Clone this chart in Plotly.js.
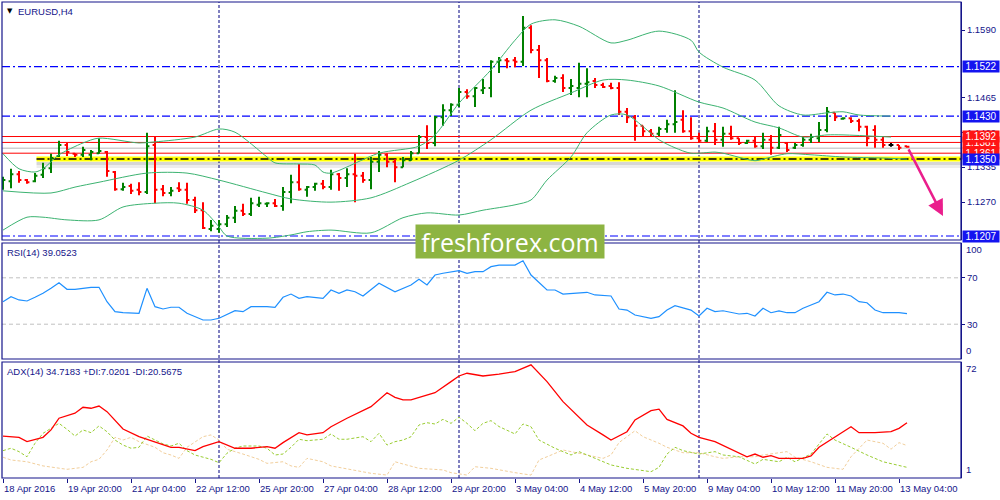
<!DOCTYPE html>
<html>
<head>
<meta charset="utf-8">
<script src="https://cdn.plot.ly/plotly-3.0.1.min.js"></script>
<style>html,body{margin:0;padding:0;background:#fff;}#chart{width:1000px;height:500px;}</style>
</head>
<body>
<div id="chart"></div>
<script>
// ---------------- DATA ----------------
const symbolTitle = "EURUSD,H4";
const rsiTitle = "RSI(14) 39.0523";
const adxTitle = "ADX(14) 34.7183 +DI:7.0201 -DI:20.5675";

const openP = [1.1300,1.1309,1.1322,1.1311,1.1309,1.1321,1.1333,1.1356,1.1376,1.1360,
 1.1358,1.1358,1.1361,1.1363,1.1326,1.1294,1.1300,1.1293,1.1289,1.1376,
 1.1294,1.1287,1.1296,1.1293,1.1274,1.1255,1.1220,1.1220,1.1229,1.1241,
 1.1254,1.1248,1.1265,1.1267,1.1268,1.1263,1.1289,1.1307,1.1293,1.1298,
 1.1304,1.1298,1.1322,1.1315,1.1322,1.1319,1.1311,1.1345,1.1358,1.1345,
 1.1335,1.1348,1.1361,1.1391,1.1380,1.1428,1.1441,1.1451,1.1475,1.1467,
 1.1478,1.1482,1.1531,1.1534,1.1534,1.1531,1.1594,1.1553,1.1534,1.1495,
 1.1501,1.1482,1.1482,1.1490,1.1495,1.1488,1.1486,1.1482,1.1438,1.1428,
 1.1412,1.1402,1.1397,1.1406,1.1415,1.1423,1.1402,1.1389,1.1384,1.1402,
 1.1386,1.1397,1.1389,1.1380,1.1384,1.1374,1.1386,1.1371,1.1380,1.1371,
 1.1376,1.1386,1.1389,1.1404,1.1436,1.1425,1.1426,1.1421,1.1410,1.1404,
 1.1386,1.1376,1.1376,1.1374];
const highP = [1.1317,1.1332,1.1328,1.1313,1.1324,1.1343,1.1360,1.1384,1.1380,1.1361,
 1.1373,1.1367,1.1389,1.1365,1.1328,1.1306,1.1304,1.1307,1.1399,1.1391,
 1.1302,1.1298,1.1307,1.1306,1.1280,1.1270,1.1237,1.1237,1.1246,1.1263,
 1.1267,1.1278,1.1280,1.1270,1.1276,1.1298,1.1321,1.1341,1.1300,1.1306,
 1.1311,1.1330,1.1324,1.1333,1.1360,1.1326,1.1354,1.1365,1.1361,1.1350,
 1.1354,1.1365,1.1395,1.1413,1.1430,1.1452,1.1454,1.1482,1.1480,1.1484,
 1.1499,1.1534,1.1540,1.1538,1.1540,1.1616,1.1599,1.1562,1.1538,1.1505,
 1.1508,1.1499,1.1529,1.1519,1.1501,1.1492,1.1492,1.1493,1.1445,1.1432,
 1.1412,1.1406,1.1410,1.1423,1.1478,1.1441,1.1428,1.1399,1.1410,1.1417,
 1.1410,1.1412,1.1389,1.1386,1.1391,1.1399,1.1395,1.1410,1.1382,1.1380,
 1.1391,1.1397,1.1419,1.1447,1.1436,1.1428,1.1428,1.1425,1.1412,1.1413,
 1.1391,1.1380,1.1376,1.1374];
const lowP = [1.1293,1.1296,1.1306,1.1304,1.1307,1.1315,1.1324,1.1354,1.1356,1.1354,
 1.1354,1.1348,1.1360,1.1317,1.1291,1.1291,1.1285,1.1283,1.1285,1.1268,
 1.1281,1.1281,1.1289,1.1267,1.1250,1.1220,1.1216,1.1213,1.1224,1.1231,
 1.1244,1.1244,1.1261,1.1261,1.1261,1.1254,1.1268,1.1291,1.1280,1.1291,
 1.1294,1.1293,1.1291,1.1298,1.1270,1.1306,1.1294,1.1326,1.1335,1.1307,
 1.1335,1.1347,1.1361,1.1369,1.1374,1.1412,1.1430,1.1447,1.1462,1.1447,
 1.1471,1.1465,1.1510,1.1519,1.1521,1.1523,1.1547,1.1501,1.1493,1.1492,
 1.1475,1.1469,1.1465,1.1465,1.1482,1.1482,1.1480,1.1432,1.1417,1.1384,
 1.1391,1.1391,1.1393,1.1399,1.1399,1.1399,1.1386,1.1380,1.1382,1.1376,
 1.1373,1.1386,1.1376,1.1378,1.1371,1.1369,1.1358,1.1369,1.1363,1.1369,
 1.1373,1.1380,1.1382,1.1400,1.1421,1.1423,1.1417,1.1402,1.1374,1.1371,
 1.1371,1.1373,1.1367,1.1371];
const closeP = [1.1311,1.1322,1.1311,1.1307,1.1319,1.1333,1.1352,1.1376,1.1363,1.1358,
 1.1367,1.1363,1.1365,1.1328,1.1294,1.1298,1.1291,1.1289,1.1374,1.1293,
 1.1287,1.1291,1.1293,1.1274,1.1255,1.1222,1.1226,1.1229,1.1241,1.1254,
 1.1248,1.1268,1.1268,1.1268,1.1263,1.1289,1.1307,1.1294,1.1298,1.1304,
 1.1298,1.1322,1.1315,1.1322,1.1319,1.1311,1.1345,1.1358,1.1345,1.1335,
 1.1348,1.1361,1.1391,1.1380,1.1428,1.1441,1.1451,1.1475,1.1467,1.1482,
 1.1482,1.1531,1.1534,1.1532,1.1531,1.1594,1.1553,1.1534,1.1495,1.1501,
 1.1482,1.1486,1.1490,1.1493,1.1488,1.1484,1.1482,1.1438,1.1428,1.1412,
 1.1402,1.1397,1.1406,1.1415,1.1419,1.1402,1.1389,1.1384,1.1402,1.1386,
 1.1397,1.1389,1.1380,1.1384,1.1374,1.1386,1.1371,1.1395,1.1367,1.1376,
 1.1386,1.1391,1.1404,1.1438,1.1428,1.1426,1.1421,1.1410,1.1389,1.1386,
 1.1376,1.1376,1.1371,1.1373];

// Bollinger bands (bar index, price)
const bbUpperIdx = [0,2,4,5,6,7,10,12,17,19,24,27,29,33,34,37,39,40,41,47,52,54,57,61,64,66,69,72,76,78,82,86,87,90,94,97,100,103,105,107,111];
const bbUpperVal = [1.1360,1.1332,1.1326,1.1332,1.1345,1.1358,1.1380,1.1389,1.1380,1.1382,1.1391,1.1406,1.1400,1.1354,1.1343,1.1341,1.1339,1.1326,1.1324,1.1361,1.1374,1.1395,1.1454,1.1516,1.1571,1.1601,1.1609,1.1597,1.1566,1.1571,1.1588,1.1571,1.1549,1.1521,1.1497,1.1449,1.1432,1.1436,1.1438,1.1432,1.1430];
const bbMidIdx = [0,6,9,12,18,23,27,33,36,41,46,51,57,61,66,71,75,78,82,87,90,94,97,100,103,105,111];
const bbMidVal = [1.1291,1.1287,1.1298,1.1307,1.1324,1.1324,1.1311,1.1287,1.1276,1.1270,1.1278,1.1307,1.1348,1.1386,1.1441,1.1473,1.1497,1.1497,1.1486,1.1456,1.1445,1.1419,1.1408,1.1391,1.1395,1.1395,1.1391];
const bbLowerIdx = [0,3,5,8,12,15,19,22,25,27,28,33,36,38,41,46,50,53,57,60,64,66,68,71,73,76,78,82,84,86,89,90,94,95,98,101,105,110,113];
const bbLowerVal = [1.1218,1.1242,1.1242,1.1237,1.1237,1.1261,1.1268,1.1268,1.1255,1.1224,1.1207,1.1203,1.1209,1.1215,1.1218,1.1213,1.1241,1.1250,1.1246,1.1255,1.1265,1.1274,1.1311,1.1354,1.1399,1.1432,1.1432,1.1386,1.1371,1.1361,1.1363,1.1361,1.1347,1.1350,1.1360,1.1358,1.1354,1.1352,1.1350];

// RSI(14)
const rsiIdx = [0,1,2,3,4,5,6,7,8,9,11,12,13,14,15,17,18,19,20,21,22,23,25,26,27,29,30,31,33,34,35,36,37,38,40,41,42,43,44,45,47,49,51,52,53,54,55,56,57,58,59,60,61,62,64,65,66,68,69,70,72,73,74,76,77,78,79,81,82,83,84,86,87,88,89,90,92,93,94,95,96,97,98,99,100,102,103,104,105,106,107,108,109,110,112,113];
const rsiVal = [49.4,53.7,50.9,50.0,53.2,56.6,60.9,65.8,60.1,60.1,61.8,61.8,49.4,40.8,39.9,39.4,60.9,45.1,43.1,44.6,44.6,39.4,33.6,33.6,35.1,41.6,40.8,45.1,45.1,44.6,53.2,56.0,52.3,53.7,52.3,59.5,56.6,59.5,58.0,54.3,65.3,58.0,63.8,68.7,63.8,72.4,73.9,75.3,76.1,73.9,75.3,75.3,79.6,81.0,81.0,84.7,72.4,59.5,59.5,56.0,56.6,57.5,55.2,54.3,43.1,42.2,37.9,35.1,36.5,42.2,45.9,42.2,37.1,43.7,40.8,41.6,38.8,39.4,37.1,43.7,39.9,41.4,39.9,39.9,43.7,49.4,57.5,55.2,56.0,54.3,49.4,48.5,42.2,39.9,39.9,39.05];
const rsiLevels = [70, 30];

// ADX(14), +DI, -DI
const adxIdx = [0,2,3,5,6,7,9,10,11,12,13,14,15,17,19,21,22,24,25,27,29,31,33,34,35,37,38,40,41,43,46,48,49,50,51,54,56,57,58,60,62,64,66,68,70,73,75,76,78,79,81,82,83,85,86,87,89,91,92,93,94,95,96,97,100,101,102,104,106,107,109,111,112,113];
const adxVal = [26.5,25.7,23.0,25.7,30.3,37.6,40.7,44.4,43.8,45.2,41.7,36.1,30.9,26.1,23.0,19.5,19.5,17.4,19.9,23.0,18.9,18.9,19.9,18.9,22.4,28.6,27.2,28.6,32.3,37.6,44.8,53.5,50.6,49.0,49.0,53.5,60.4,63.9,65.6,63.9,65.1,66.6,70.8,60.4,47.9,33.4,27.2,24.0,29.2,36.5,42.3,43.2,36.9,32.8,28.2,25.7,23.0,18.3,15.8,13.6,15.3,13.3,14.3,12.6,12.6,14.1,19.5,26.1,32.3,28.6,28.6,29.2,31.3,34.72];
const pdiIdx = [0,1,2,3,4,5,6,7,8,9,10,11,12,13,14,15,16,17,18,19,20,21,22,23,24,26,27,28,29,30,32,33,34,35,36,37,38,40,41,42,43,45,46,47,48,49,50,51,52,53,54,55,56,57,58,59,60,61,62,64,65,66,67,69,71,72,74,76,78,81,82,83,84,85,87,89,90,92,94,95,97,98,99,101,103,104,106,108,110,112,113];
const pdiVal = [17.4,18.9,16.8,13.6,22.0,28.2,31.3,34.4,30.7,26.5,30.3,28.6,32.8,29.2,24.0,20.9,18.9,19.5,26.5,24.0,21.6,20.3,22.0,17.4,14.7,12.0,9.9,15.8,18.9,20.3,20.3,18.9,14.7,15.3,19.5,24.5,23.6,24.5,27.8,24.5,24.5,26.1,23.0,28.2,20.9,23.0,24.0,26.1,33.4,34.8,34.0,36.9,34.4,38.2,34.4,29.8,34.4,36.1,32.4,27.8,34.0,32.3,24.0,18.9,14.7,16.8,12.6,8.5,6.4,4.3,7.0,15.3,19.5,17.4,15.3,16.8,14.7,13.6,9.1,12.0,10.5,13.3,10.5,15.3,27.8,24.0,19.5,14.7,10.5,7.9,7.02];
const mdiIdx = [0,1,3,5,8,10,11,12,13,14,15,16,17,19,20,21,22,23,25,26,27,28,30,32,33,35,36,37,38,40,41,44,46,48,49,50,52,55,56,58,59,61,62,64,66,67,68,70,72,74,75,76,77,79,80,82,83,85,87,89,90,92,94,95,97,98,99,101,103,105,106,108,110,111,112,113];
const mdiVal = [13.3,11.6,10.5,7.9,5.8,7.0,10.5,12.0,17.8,25.7,24.0,25.7,23.0,19.5,16.1,14.7,12.6,19.5,26.1,27.2,24.0,18.3,15.3,12.0,9.5,10.5,7.9,7.0,12.6,10.5,7.9,5.4,3.3,2.2,10.5,9.1,6.4,5.4,3.7,2.2,7.4,6.4,5.4,3.7,2.2,11.6,13.6,17.8,15.8,13.6,12.6,14.7,22.4,29.8,26.1,22.0,19.5,16.1,16.1,13.6,12.6,13.6,13.6,14.7,15.8,16.8,13.3,10.5,7.0,5.8,13.6,24.0,22.0,18.3,22.4,20.57];

// Time axis
const dateTickBars = [0,8,16,24,32,40,48,56,64,72,80,88,96,104,112];
const dateLabels = ["18 Apr 2016","19 Apr 20:00","21 Apr 04:00","22 Apr 12:00","25 Apr 20:00","27 Apr 04:00","28 Apr 12:00","29 Apr 20:00","3 May 04:00","4 May 12:00","5 May 20:00","9 May 04:00","10 May 12:00","11 May 20:00","13 May 04:00"];
const weekSeparatorBars = [27,57,87];

// Price levels
const priceTicks = [1.1590, 1.1465, 1.1400, 1.1335, 1.1270];
const blueLevels = [1.1522, 1.1430, 1.1207];
const redLevels = [1.1392, 1.1381, 1.1361];
const grayLevel = 1.1370;
const supportLevel = 1.1350;
const redBoxOrder = [1.1381, 1.1361, 1.1392];
const blueBoxOrder = [1.1522, 1.1430, 1.1207, 1.1350];
const watermark = "freshforex.com";

// ---------------- STYLE ----------------
const NAVY = "#14148a";
const SEP = "#000080";
const FONT = "Liberation Sans, Arial, sans-serif";
const FS = 9.5;
const BBCOL = "#3cb371";

const bars = openP.map((_, i) => i);
const isDoji = bars.map(i => openP[i] === closeP[i]);
const pick = (arr, keep) => arr.filter((_, i) => keep(i));

const traces = [];
// Bollinger bands
[[bbUpperIdx, bbUpperVal], [bbMidIdx, bbMidVal], [bbLowerIdx, bbLowerVal]].forEach(([xi, yv]) => {
  traces.push({type: "scatter", mode: "lines", x: xi, y: yv, xaxis: "x", yaxis: "y",
    line: {color: BBCOL, width: 1, shape: "spline", smoothing: 0.8}, hoverinfo: "skip"});
});
// OHLC bars
traces.push({type: "ohlc", xaxis: "x", yaxis: "y",
  x: pick(bars, i => !isDoji[i]), open: pick(openP, i => !isDoji[i]), high: pick(highP, i => !isDoji[i]),
  low: pick(lowP, i => !isDoji[i]), close: pick(closeP, i => !isDoji[i]),
  increasing: {line: {color: "#008000", width: 2}}, decreasing: {line: {color: "#ff0000", width: 2}},
  tickwidth: 0.3, hoverinfo: "skip"});
traces.push({type: "ohlc", xaxis: "x", yaxis: "y",
  x: pick(bars, i => isDoji[i]), open: pick(openP, i => isDoji[i]), high: pick(highP, i => isDoji[i]),
  low: pick(lowP, i => isDoji[i]), close: pick(closeP, i => isDoji[i]),
  increasing: {line: {color: "#000000", width: 2}}, decreasing: {line: {color: "#000000", width: 2}},
  tickwidth: 0.3, hoverinfo: "skip"});
// RSI
traces.push({type: "scatter", mode: "lines", x: rsiIdx, y: rsiVal, xaxis: "x", yaxis: "y2",
  line: {color: "#1e90ff", width: 1.2}, hoverinfo: "skip"});
// ADX
traces.push({type: "scatter", mode: "lines", x: mdiIdx, y: mdiVal, xaxis: "x", yaxis: "y3",
  line: {color: "#f2cf9c", width: 1, dash: "3px,2px"}, hoverinfo: "skip"});
traces.push({type: "scatter", mode: "lines", x: pdiIdx, y: pdiVal, xaxis: "x", yaxis: "y3",
  line: {color: "#9acd32", width: 1, dash: "3px,2px"}, hoverinfo: "skip"});
traces.push({type: "scatter", mode: "lines", x: adxIdx, y: adxVal, xaxis: "x", yaxis: "y3",
  line: {color: "#ff0000", width: 1.3}, hoverinfo: "skip"});

const mainDom = [0.5, 1.0];
const rsiDom = [0.25, 0.4937];
const adxDom = [0.0, 0.2437];

const shapes = [];
// week separators
weekSeparatorBars.forEach(b => shapes.push({type: "line", xref: "x", yref: "paper", x0: b, x1: b, y0: 0, y1: 1,
  line: {color: SEP, width: 1, dash: "3px,2px"}, layer: "below"}));
// gray level
shapes.push({type: "line", xref: "paper", yref: "y", x0: 0, x1: 1, y0: grayLevel, y1: grayLevel,
  line: {color: "#cfcfcf", width: 1.5}, layer: "below"});
// red levels
redLevels.forEach(v => shapes.push({type: "line", xref: "paper", yref: "y", x0: 0, x1: 1, y0: v, y1: v,
  line: {color: "#ff0000", width: 1}, layer: "below"}));
// blue dash-dot levels
blueLevels.forEach(v => shapes.push({type: "line", xref: "paper", yref: "y", x0: 0, x1: 1, y0: v, y1: v,
  line: {color: "#0000ff", width: 1.2, dash: "8px,3px,2px,3px"}, layer: "below"}));
// support zone: shadow, yellow band, dash line
shapes.push({type: "rect", xref: "paper", yref: "y", x0: 0.036, x1: 1, ysizemode: "pixel", yanchor: supportLevel,
  y0: -3, y1: -6, fillcolor: "rgba(0,0,0,0.16)", line: {width: 0}, layer: "below"});
shapes.push({type: "rect", xref: "paper", yref: "y", x0: 0.036, x1: 1, ysizemode: "pixel", yanchor: supportLevel,
  y0: -6, y1: -9, fillcolor: "rgba(0,0,0,0.07)", line: {width: 0}, layer: "below"});
shapes.push({type: "rect", xref: "paper", yref: "y", x0: 0.036, x1: 1, ysizemode: "pixel", yanchor: supportLevel,
  y0: -2.5, y1: 2.5, fillcolor: "#ffff00", line: {width: 0}, layer: "below"});
shapes.push({type: "line", xref: "paper", yref: "y", x0: 0.036, x1: 1, y0: supportLevel, y1: supportLevel,
  line: {color: "#000000", width: 1.5, dash: "8px,3px,2px,3px"}, layer: "below"});
// RSI levels
rsiLevels.forEach(v => shapes.push({type: "line", xref: "paper", yref: "y2", x0: 0, x1: 1, y0: v, y1: v,
  line: {color: "#c0c0c0", width: 1, dash: "4px,3px"}, layer: "below"}));
// panel borders
[mainDom, rsiDom, adxDom].forEach(d => shapes.push({type: "rect", xref: "paper", yref: "paper",
  x0: 0, x1: 1, y0: d[0], y1: d[1], line: {color: NAVY, width: 1.2}, fillcolor: "rgba(0,0,0,0)", layer: "above"}));

const annotations = [];
const txt = (size, color) => ({family: FONT, size: size || FS, color: color || NAVY});
// titles
annotations.push({xref: "paper", yref: "paper", x: 0, y: 1, xanchor: "left", yanchor: "top", xshift: 3, yshift: -3,
  text: "▼", showarrow: false, font: {family: "DejaVu Sans", size: 7, color: "#000"}});
annotations.push({xref: "paper", yref: "paper", x: 0, y: 1, xanchor: "left", yanchor: "top", xshift: 14, yshift: -2,
  text: symbolTitle, showarrow: false, font: txt()});
annotations.push({xref: "paper", yref: "y2 domain", x: 0, y: 1, xanchor: "left", yanchor: "top", xshift: 3, yshift: -2,
  text: rsiTitle, showarrow: false, font: txt()});
annotations.push({xref: "paper", yref: "y3 domain", x: 0, y: 1, xanchor: "left", yanchor: "top", xshift: 3, yshift: -2,
  text: adxTitle, showarrow: false, font: txt()});
// date labels
dateTickBars.forEach((b, k) => annotations.push({xref: "x", yref: "paper", x: b, y: 0, xanchor: "left", yanchor: "top",
  xshift: -1, yshift: -3, text: dateLabels[k], showarrow: false, font: txt()}));
// indicator scale labels
[["y2 domain", 1, "top", "100"], ["y2 domain", 0, "bottom", "0"], ["y3 domain", 1, "top", "72"], ["y3 domain", 0, "bottom", "1"]]
  .forEach(([yr, yv, ya, t]) => annotations.push({xref: "paper", yref: yr, x: 1, y: yv, xanchor: "left", yanchor: ya,
    xshift: 3, yshift: ya === "top" ? 1 : 1, text: t, showarrow: false, font: txt()}));
// price boxes
const box = (v, bg) => ({xref: "paper", yref: "y", x: 1, y: v, xanchor: "left", yanchor: "middle", xshift: 1,
  text: v.toFixed(4), showarrow: false, bgcolor: bg, width: 36, height: 11, borderpad: 0,
  font: {family: FONT, size: FS + 0.5, color: "#ffffff"}});
redBoxOrder.forEach(v => annotations.push(box(v, "#ff1414")));
blueBoxOrder.forEach(v => annotations.push(box(v, "#1414f0")));
// watermark
annotations.push({xref: "paper", yref: "paper", x: 0.5297, y: 0.4968, xanchor: "center", yanchor: "middle",
  text: watermark, showarrow: false, bgcolor: "#8db442", width: 188, height: 33, borderpad: 0,
  font: {family: "Open Sans, sans-serif", size: 25, color: "#ffffff"}});
// forecast arrow
annotations.push({xref: "x", yref: "y", x: 117.5, y: 1.1244, axref: "x", ayref: "y", ax: 113.1, ay: 1.1371,
  text: "", showarrow: true, arrowhead: 2, arrowsize: 1.3, arrowwidth: 2.5, arrowcolor: "#ea1e8c"});

const axBase = {showgrid: false, zeroline: false, showline: true, linecolor: NAVY, linewidth: 1,
  ticks: "outside", ticklen: 3, tickcolor: NAVY, tickfont: txt(), fixedrange: true};

const layout = {
  width: 1000, height: 500,
  margin: {l: 2, r: 39, t: 2, b: 22, pad: 0},
  paper_bgcolor: "#ffffff", plot_bgcolor: "#ffffff",
  showlegend: false, hovermode: false, dragmode: false,
  xaxis: Object.assign({}, axBase, {range: [-0.125, 119.75], anchor: "y3", tickvals: dateTickBars,
    ticktext: dateTickBars.map(() => ""), ticklen: 4, rangeslider: {visible: false}, showline: false}),
  yaxis: Object.assign({}, axBase, {domain: mainDom, range: [1.11996, 1.16421], side: "right", anchor: "x",
    tickvals: priceTicks, ticktext: priceTicks.map(v => v.toFixed(4))}),
  yaxis2: Object.assign({}, axBase, {domain: rsiDom, range: [0, 100], side: "right", anchor: "x",
    tickvals: rsiLevels, ticktext: rsiLevels.map(String)}),
  yaxis3: Object.assign({}, axBase, {domain: adxDom, range: [0.38, 72.6], side: "right", anchor: "x",
    tickvals: [], ticktext: []}),
  shapes: shapes,
  annotations: annotations
};

Plotly.newPlot("chart", traces, layout, {staticPlot: true, displayModeBar: false});
</script>
</body>
</html>
